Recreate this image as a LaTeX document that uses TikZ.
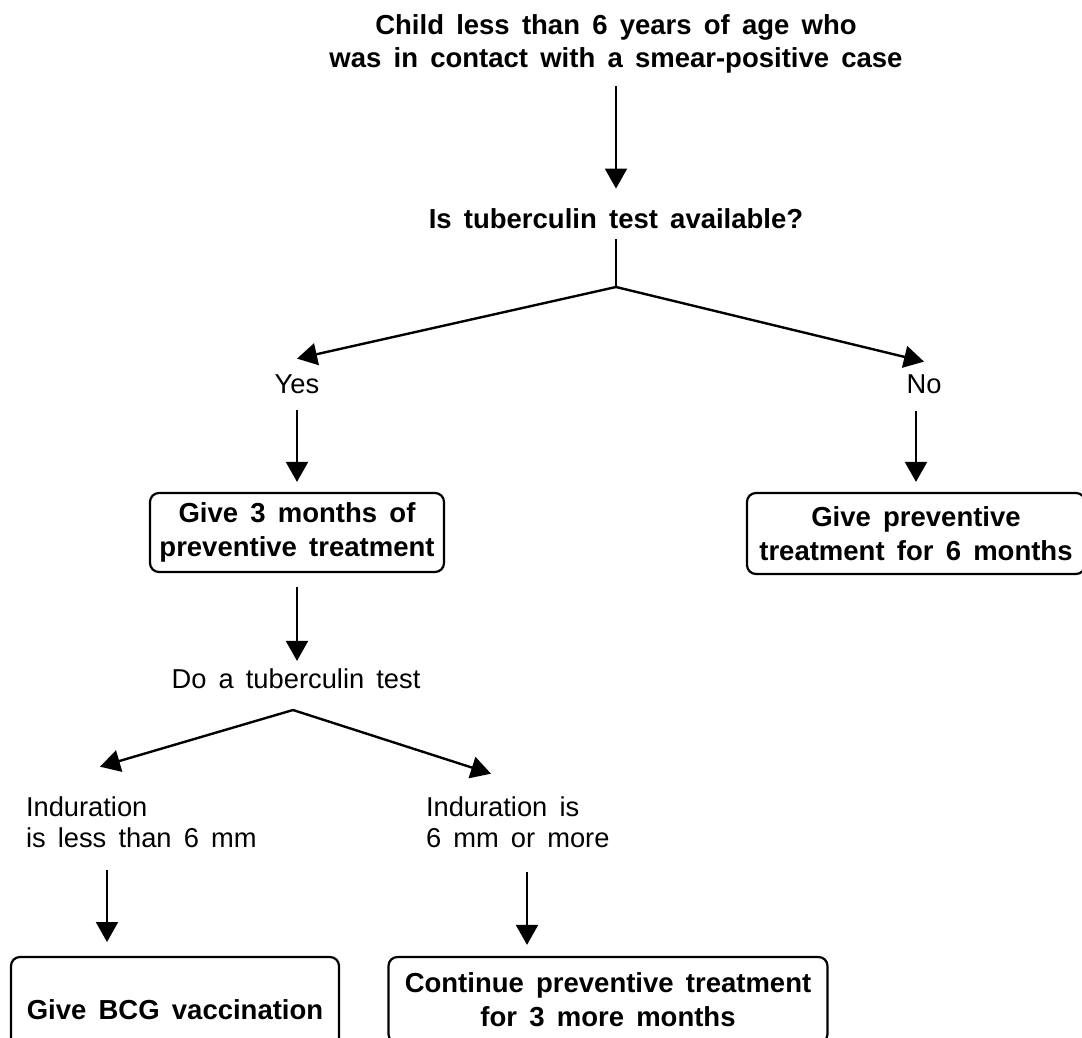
\documentclass[tikz,border=0pt]{standalone}
\usepackage{fontspec}
\setmainfont{Liberation Sans}[WordSpace=1.6]
\usetikzlibrary{arrows.meta}
\begin{document}
\begin{tikzpicture}[x=1pt,y=-1pt,
  bt/.style={font=\fontsize{27.5}{33}\selectfont\bfseries, align=center, inner sep=0pt, outer sep=0pt},
  rt/.style={font=\fontsize{27.3}{31}\selectfont, inner sep=0pt, outer sep=0pt},
  rbox/.style={draw, line width=2.2pt, rounded corners=9pt, align=center,
    font=\fontsize{27.5}{34}\selectfont\bfseries, inner sep=0pt},
  arr/.style={line width=2pt, -{Triangle[length=20pt,width=22pt]}},
  barr/.style={line width=2.4pt, -{Triangle[length=20pt,width=22pt]}},
  ln/.style={line width=2pt}]
\useasboundingbox (0,0) rectangle (1082,1038);

% nodes
\node[bt] (title) at (616,44.2) {Child less than 6 years of age who\\was in contact with a smear-positive case};
\node[bt, anchor=base] (avail) at (616,228) {Is tuberculin test available?};
\coordinate (j1) at (616,287);
\node[rt, anchor=base] (yes) at (297,393) {Yes};
\node[rt, anchor=base] (no) at (924,393) {No};
\node[rbox, minimum width=294pt, minimum height=79pt] (b1) at (297,532.5) {Give 3 months of\\preventive treatment};
\node[rbox, minimum width=338pt, minimum height=81pt] (b2) at (916,533.5) {Give preventive\\treatment for 6 months};
\node[rt, anchor=base] (dotest) at (296,688) {Do a tuberculin test};
\coordinate (j2) at (293,710);
\node[rt, align=left, anchor=north west] (ind1) at (26,797) {Induration\\is less than 6 mm};
\node[rt, align=left, anchor=north west] (ind2) at (426,797) {Induration is\\6 mm or more};
\node[rbox, minimum width=328pt, minimum height=106pt] (b3) at (175,1010) {Give BCG vaccination};
\node[rbox, minimum width=439pt, minimum height=86pt] (b4) at (608,1000) {Continue preventive treatment\\for 3 more months};
\coordinate (s3) at (107,870);
\coordinate (s4) at (527,872);

% connectors
\draw[arr, shorten <=12.5pt, shorten >=19.5pt] (title.south) -- (avail.north);
\draw[ln, shorten <=11pt] (avail.south) -- (j1);
\draw[barr] (j1) -- ([yshift=15.6pt]yes.north);
\draw[barr] (j1) -- ([yshift=12.6pt]no.north);
\draw[arr, shorten <=16.4pt, shorten >=10pt] (yes.south) -- (b1.north);
\draw[arr, shorten <=18pt, shorten >=10pt] (b2.north |- no.south) -- (b2.north);
\draw[arr, shorten <=14pt, shorten >=7.3pt] (b1.south) -- (b1.south |- dotest.north);
\draw[barr] (j2) -- ([xshift=74pt,yshift=30.3pt]ind1.north west);
\draw[barr] (j2) -- ([xshift=65pt,yshift=23.3pt]ind2.north west);
\draw[arr, shorten >=13.9pt] (s3) -- (s3 |- b3.north);
\draw[arr, shorten >=11pt] (s4) -- (s4 |- b4.north);
\end{tikzpicture}
\end{document}
